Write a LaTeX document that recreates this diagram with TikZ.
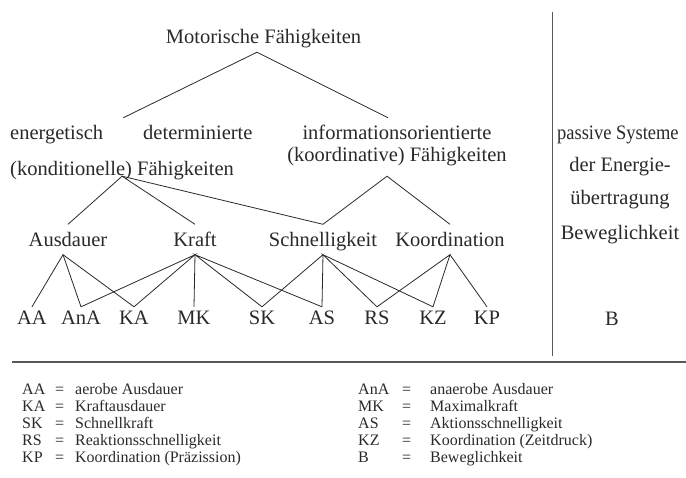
\documentclass[tikz,border=0pt]{standalone}
\usepackage{fontspec}
\setmainfont{Liberation Serif}
\usetikzlibrary{calc}
\newcommand\treefont{\fontsize{20.5}{24}\selectfont}
\newcommand\keyfont{\fontsize{16}{19}\selectfont}
\definecolor{inkGray}{HTML}{2A2A2A}

\tikzset{
  txt/.style={font=\treefont, text=inkGray, inner xsep=0pt, inner ysep=0pt,
    text height=14pt, text depth=0pt, anchor=base},
  head/.style={txt, inner ysep=9pt},
  grp/.style={txt, inner ysep=7pt},
  mid/.style={txt, inner ysep=8pt},
  leaf/.style={txt, text height=13.6pt, inner ysep=3.4pt},
  key/.style={font=\keyfont, text=inkGray, inner sep=0pt, anchor=base west},
  link/.style={draw=inkGray, line width=0.8pt},
  rule/.style={draw=black!65, line width=1.1pt}
}

\begin{document}
\begin{tikzpicture}[x=1pt, y=-1pt]

\fill[white] (0,0) rectangle (686,477);
\clip (0,0) rectangle (686,477);

% top of the tree
\node[head] (motor) at (263.5,43) {Motorische Fähigkeiten};

\node[grp, anchor=base west] (energ) at (10,139) {energetisch};
\node[grp, anchor=base west] (determ) at (143,139) {determinierte};
\node[txt, anchor=base west, inner ysep=1pt] (kond) at (10,175)
  {(konditionelle) Fähigkeiten};

\node[grp] (info) at (397,139) {informationsorientierte};
\node[txt, inner ysep=15pt] (koordf) at (397,161) {(koordinative) Fähigkeiten};

% right column
\node[txt, anchor=base west] (passiv) at (557,139) {\scalebox{0.9}[1]{passive Systeme}};
\node[txt] (energie) at (620,171.5) {der Energie-};
\node[txt] (uebertr) at (620,204) {übertragung};
\node[txt] (bewegl) at (620,239) {Beweglichkeit};
\node[txt] (leafB) at (612,325) {B};

% middle row
\node[mid] (ausd) at (68,246.5) {Ausdauer};
\node[mid] (kraft) at (195,246.5) {Kraft};
\node[mid] (schnell) at (323,246.5) {Schnelligkeit};
\node[mid] (koord) at (450,246.5) {Koordination};

% leaves
\node[leaf] (AA) at (32,324) {AA};
\node[leaf] (AnA) at (81,324) {AnA};
\node[leaf] (KA) at (134,324) {KA};
\node[leaf] (MK) at (194,324) {MK};
\node[leaf] (SK) at (262,324) {SK};
\node[leaf] (AS) at (322,324) {AS};
\node[leaf] (RS) at (377,324) {RS};
\node[leaf] (KZ) at (433,324) {KZ};
\node[leaf] (KP) at (487,324) {KP};

% connectors
\draw[link] ($(energ.north east)!.5!(determ.north west)$)
  -- ([xshift=-6.5pt]motor.south) -- ([xshift=-9pt]info.north);
\draw[link] (ausd.north) -- (kond.south) -- (kraft.north);
\draw[link] (kond.south) -- (schnell.north);
\draw[link] (schnell.north) -- ([xshift=-10pt]koordf.south) -- (koord.north);

\draw[link] (AA.north) -- ([xshift=-5pt]ausd.south) -- (AnA.north);
\draw[link] ([xshift=-5pt]ausd.south) -- (KA.north);
\draw[link] (AnA.north) -- (kraft.south) -- (KA.north);
\draw[link] (kraft.south) -- (MK.north);
\draw[link] (SK.north) -- (kraft.south) -- (AS.north);
\draw[link] (SK.north) -- (schnell.south) -- (AS.north);
\draw[link] (RS.north) -- (schnell.south) -- (KZ.north);
\draw[link] (RS.north) -- (koord.south) -- (KZ.north);
\draw[link] (koord.south) -- (KP.north);

% dividers
\coordinate (vtop) at (552,12);
\coordinate (vbot) at (552,356);
\draw[rule, line width=0.9pt] (vtop) -- (vbot);
\coordinate (hleft) at (12,362);
\coordinate (hright) at (686,362);
\draw[rule] (hleft) -- (hright);

% legend
\node[key] (lgAA) at (22,394) {\makebox[33pt][l]{AA}\makebox[20pt][l]{=}aerobe Ausdauer};
\node[key] (lgKA) at (22,411) {\makebox[33pt][l]{KA}\makebox[20pt][l]{=}Kraftausdauer};
\node[key] (lgSK) at (22,428) {\makebox[33pt][l]{SK}\makebox[20pt][l]{=}Schnellkraft};
\node[key] (lgRS) at (22,445) {\makebox[33pt][l]{RS}\makebox[20pt][l]{=}Reaktionsschnelligkeit};
\node[key] (lgKP) at (22,462) {\makebox[33pt][l]{KP}\makebox[20pt][l]{=}Koordination (Präzission)};

\node[key] (lgAnA) at (358,394) {\makebox[44pt][l]{AnA}\makebox[28pt][l]{=}anaerobe Ausdauer};
\node[key] (lgMK) at (358,411) {\makebox[44pt][l]{MK}\makebox[28pt][l]{=}Maximalkraft};
\node[key] (lgAS) at (358,428) {\makebox[44pt][l]{AS}\makebox[28pt][l]{=}Aktionsschnelligkeit};
\node[key] (lgKZ) at (358,445) {\makebox[44pt][l]{KZ}\makebox[28pt][l]{=}Koordination (Zeitdruck)};
\node[key] (lgB) at (358,462) {\makebox[44pt][l]{B}\makebox[28pt][l]{=}Beweglichkeit};

\end{tikzpicture}
\end{document}
